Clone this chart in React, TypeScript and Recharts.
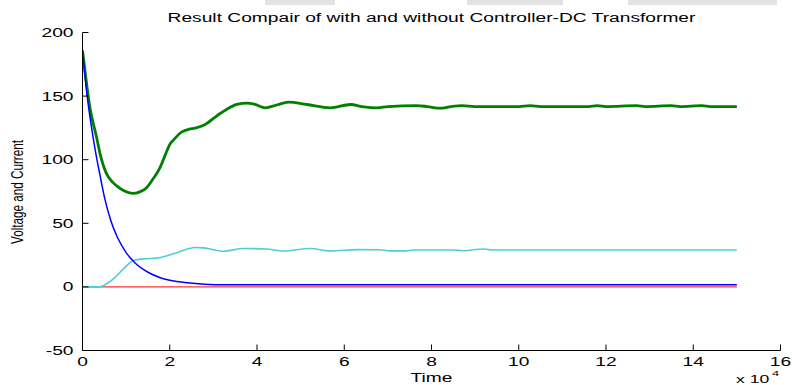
import React from 'react';
import { LineChart, Line, XAxis, YAxis } from 'recharts';

// Time axis is expressed in units of 10^4
const xTicks = [0, 2, 4, 6, 8, 10, 12, 14, 16];
const yTicks = [-50, 0, 50, 100, 150, 200];

// With controller (dark green)
const greenTime = [0, 0.05, 0.1, 0.17, 0.25, 0.32, 0.4, 0.55, 0.7, 0.8, 0.95, 1.15, 1.3, 1.47, 1.62, 1.78, 1.9, 2.0, 2.1, 2.24, 2.4, 2.6, 2.8, 3.08, 3.3, 3.54, 3.77, 3.95, 4.19, 4.45, 4.72, 5.14, 5.68, 6.14, 6.45, 6.75, 7.0, 7.66, 7.9, 8.2, 8.45, 8.7, 9.0, 10.0, 10.26, 10.5, 11.6, 11.8, 12.0, 12.7, 12.9, 13.5, 13.7, 14.2, 14.4, 15];
const greenValue = [186, 172, 158, 141, 128, 118, 105, 89, 82, 79, 75.5, 73.5, 74.5, 78, 85, 94, 104, 112, 116, 121, 123.5, 125, 127.5, 134.5, 139.5, 143.5, 144.5, 143.5, 140.8, 143, 145.2, 143.4, 140.8, 143.4, 141.5, 140.8, 141.8, 142.5, 141.8, 140.5, 141.8, 142.5, 141.8, 141.8, 142.5, 141.8, 141.8, 142.5, 141.8, 142.5, 141.8, 142.5, 141.8, 142.5, 141.8, 141.8];

// Decaying response (blue)
const blueTime = [0, 0.1, 0.2, 0.3, 0.4, 0.5, 0.65, 0.8, 1.0, 1.2, 1.5, 1.8, 2.1, 2.4, 2.8, 3.2, 15];
const blueValue = [185, 152, 127, 106, 88, 71, 52, 39, 27, 19, 11.5, 7, 4.6, 3.2, 2.1, 1.6, 1.6];

// Current (cyan)
const cyanTime = [0, 0.4, 0.55, 0.71, 0.94, 1.17, 1.4, 1.7, 2.09, 2.58, 2.77, 3.23, 3.69, 4.22, 4.6, 5.22, 5.68, 6.29, 6.82, 7.05, 7.4, 7.6, 8.5, 8.73, 8.95, 9.2, 9.4, 15];
const cyanValue = [0, 0, 2.5, 6.4, 14.2, 20.8, 22, 22.6, 26, 31, 30.7, 28, 30.2, 29.8, 28.2, 30.2, 28.3, 29.3, 29.2, 28.3, 28.3, 29, 29, 28.4, 29.2, 29.8, 29, 29];

// Reference (red)
const redTime = [0, 15];
const redValue = [0, 0];

const zip = (t: number[], v: number[]) => t.map((time, i) => ({ time, value: v[i] }));

const greenData = zip(greenTime, greenValue);
const blueData = zip(blueTime, blueValue);
const cyanData = zip(cyanTime, cyanValue);
const redData = zip(redTime, redValue);

const FONT = 'Liberation Sans, Arial, Helvetica, sans-serif';
const STRETCH = 1.6;
const TICK_LEN = 6;

const BottomTick = (props: any) => {
  const { x, y, payload } = props;
  return (
    <g>
      <line x1={x} y1={y} x2={x} y2={y - TICK_LEN} stroke="#000" strokeWidth={1} />
      <text
        transform={`translate(${x},${y + 15}) scale(${STRETCH},1)`}
        textAnchor="middle"
        fontFamily={FONT}
        fontSize={12}
        fill="#000"
      >
        {payload.value}
      </text>
    </g>
  );
};

const LeftTick = (props: any) => {
  const { x, y, payload } = props;
  return (
    <g>
      <line x1={x} y1={y} x2={x + TICK_LEN} y2={y} stroke="#000" strokeWidth={1} />
      <text
        transform={`translate(${x - 9},${y + 4.5}) scale(${STRETCH},1)`}
        textAnchor="end"
        fontFamily={FONT}
        fontSize={12}
        fill="#000"
      >
        {payload.value}
      </text>
    </g>
  );
};

const TopTick = (props: any) => {
  const { x, y } = props;
  return <line x1={x} y1={y} x2={x} y2={y + TICK_LEN} stroke="#000" strokeWidth={1} />;
};

const RightTick = (props: any) => {
  const { x, y } = props;
  return <line x1={x} y1={y} x2={x - TICK_LEN} y2={y} stroke="#000" strokeWidth={1} />;
};

export default function App() {
  return (
    <div style={{ position: 'absolute', left: 0, top: 0, width: 792, height: 385, background: '#fff' }}>
      <svg width={792} height={385} style={{ position: 'absolute', left: 0, top: 0 }}>
        <rect x={265} y={0} width={70} height={5} fill="#e2e2e2" />
        <rect x={467} y={0} width={96} height={5} fill="#e2e2e2" />
        <rect x={628} y={0} width={149} height={5} fill="#e2e2e2" />
        <text
          transform={`translate(431.5,22) scale(${STRETCH},1)`}
          textAnchor="middle"
          fontFamily={FONT}
          fontSize={12}
          fill="#000"
        >
          Result Compair of with and without Controller-DC Transformer
        </text>
        <text
          transform={`translate(431.5,382) scale(${STRETCH},1)`}
          textAnchor="middle"
          fontFamily={FONT}
          fontSize={12}
          fill="#000"
        >
          Time
        </text>
        <text
          transform={`translate(23,192) scale(1.35,1) rotate(-90)`}
          textAnchor="middle"
          fontFamily={FONT}
          fontSize={12}
          fill="#000"
          textLength={104}
          lengthAdjust="spacingAndGlyphs"
        >
          Voltage and Current
        </text>
        <text
          transform={`translate(736,382.5) scale(${STRETCH},1)`}
          fontFamily={FONT}
          fontSize={11}
          fill="#000"
        >
          x 10
        </text>
        <text
          transform={`translate(772,376) scale(${STRETCH},1)`}
          fontFamily={FONT}
          fontSize={8}
          fill="#000"
        >
          4
        </text>
      </svg>
      <div style={{ position: 'absolute', left: 0, top: 0 }}>
        <LineChart
          width={792}
          height={385}
          margin={{ top: 32.5, right: 11.5, bottom: 0, left: 0 }}
        >
          <XAxis
            xAxisId="b"
            dataKey="time"
            type="number"
            domain={[0, 16]}
            ticks={xTicks}
            interval={0}
            height={34.5}
            tickSize={0}
            tickMargin={0}
            tick={<BottomTick />}
            axisLine={{ stroke: '#000', strokeWidth: 1 }}
            tickLine={false}
            allowDataOverflow
          />
          <XAxis
            xAxisId="t"
            orientation="top"
            dataKey="time"
            type="number"
            domain={[0, 16]}
            ticks={xTicks}
            interval={0}
            height={0}
            tickSize={0}
            tickMargin={0}
            tick={<TopTick />}
            axisLine={{ stroke: '#000', strokeWidth: 1 }}
            tickLine={false}
          />
          <YAxis
            yAxisId="l"
            type="number"
            domain={[-50, 200]}
            ticks={yTicks}
            interval={0}
            width={82.5}
            tickSize={0}
            tickMargin={0}
            tick={<LeftTick />}
            axisLine={{ stroke: '#000', strokeWidth: 1 }}
            tickLine={false}
            allowDataOverflow
          />
          <YAxis
            yAxisId="r"
            orientation="right"
            type="number"
            domain={[-50, 200]}
            ticks={yTicks}
            interval={0}
            width={0}
            tickSize={0}
            tickMargin={0}
            tick={<RightTick />}
            axisLine={{ stroke: '#000', strokeWidth: 1 }}
            tickLine={false}
          />
          <Line xAxisId="b" yAxisId="l" data={redData} dataKey="value" type="linear" stroke="#ff0000" strokeWidth={1} dot={false} isAnimationActive={false} />
          <Line xAxisId="b" yAxisId="l" data={cyanData} dataKey="value" type="monotone" stroke="#4fd0d0" strokeWidth={1.6} dot={false} isAnimationActive={false} />
          <Line xAxisId="b" yAxisId="l" data={greenData} dataKey="value" type="monotone" stroke="#008000" strokeWidth={2.8} dot={false} isAnimationActive={false} />
          <Line xAxisId="b" yAxisId="l" data={blueData} dataKey="value" type="monotone" stroke="#0000ff" strokeWidth={1.5} dot={false} isAnimationActive={false} />
        </LineChart>
      </div>
    </div>
  );
}
